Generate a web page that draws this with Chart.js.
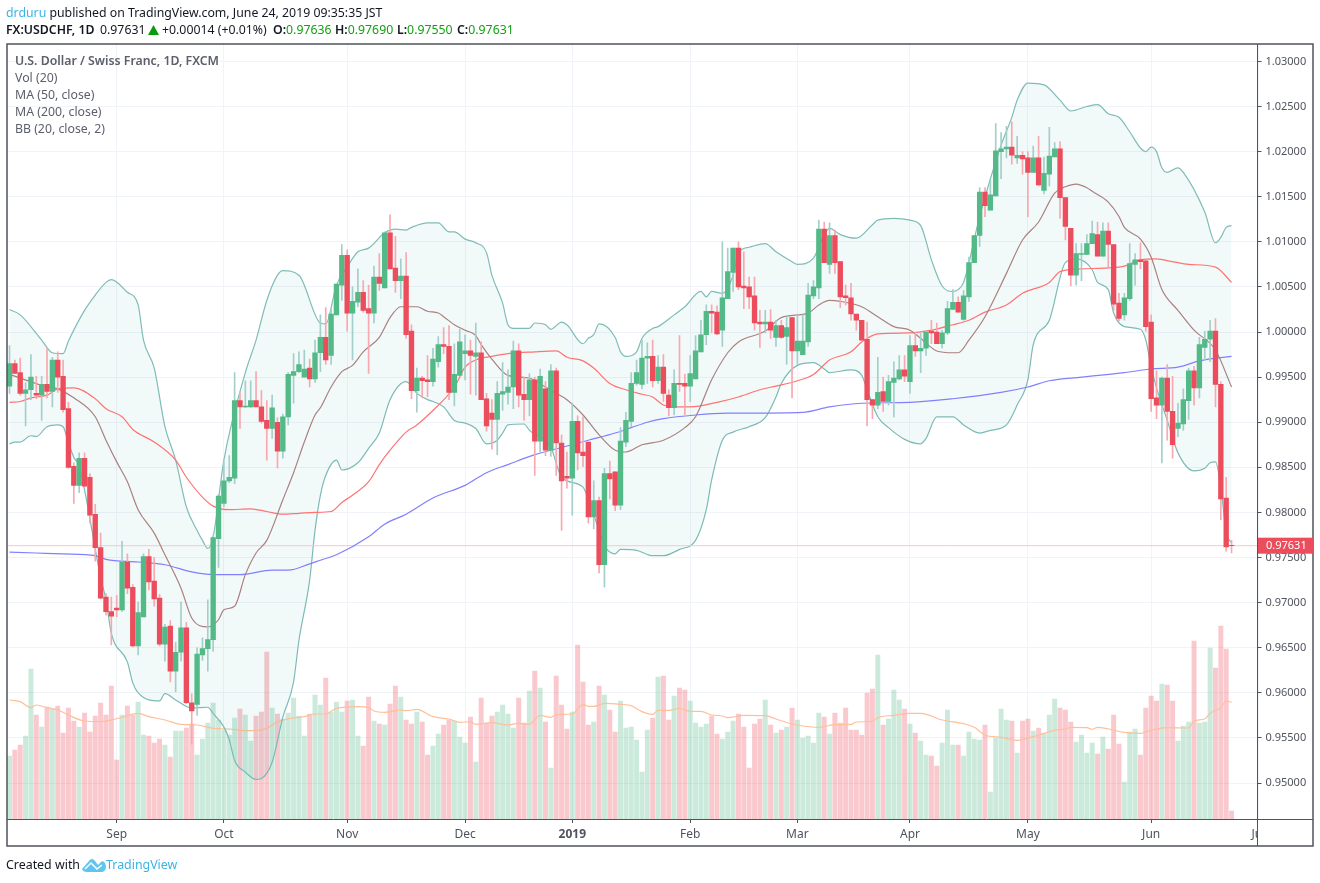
<!DOCTYPE html>
<html>
<head>
<meta charset="utf-8">
<title>USDCHF</title>
<script src="https://cdn.jsdelivr.net/npm/chart.js@4"></script>
<style>
  body { margin: 0; background: #fff; font-family: "Noto Sans", sans-serif; }
  #wrap { position: relative; width: 1320px; height: 883px; overflow: hidden; }
  canvas { position: absolute; left: 0; top: 0; }
  .t { position: absolute; white-space: nowrap; font-size: 12.3px; line-height: 16px; color: #131722; }
  .leg { color: #5d606b; left: 15px; }
  b { font-weight: 600; }
  .up { color: #12a012; }
  .blue { color: #3bb3e4; }
</style>
</head>
<body>
<div id="wrap">
  <canvas id="myChart" width="1320" height="883"></canvas>
  <div class="t" style="left:6px;top:5px"><span class="blue">drduru</span> published on TradingView.com, June 24, 2019 09:35:35 JST</div>
  <div class="t" style="left:6px;top:22px"><b>FX:USDCHF, 1D</b></div>
  <div class="t" style="left:100px;top:22px">0.97631</div>
  <svg style="position:absolute;left:148px;top:25px" width="11" height="10"><polygon points="5.5,0 11,10 0,10" fill="#0a9b0a"/></svg>
  <div class="t" style="left:162px;top:22px">+0.00014 (+0.01%)</div>
  <div class="t" style="left:273px;top:22px"><b>O:</b><span class="up">0.97636</span></div>
  <div class="t" style="left:335px;top:22px"><b>H:</b><span class="up">0.97690</span></div>
  <div class="t" style="left:397px;top:22px"><b>L:</b><span class="up">0.97550</span></div>
  <div class="t" style="left:457px;top:22px"><b>C:</b><span class="up">0.97631</span></div>
  <div class="t leg" style="top:53px"><b>U.S. Dollar / Swiss Franc, 1D, FXCM</b></div>
  <div class="t leg" style="top:70px">Vol (20)</div>
  <div class="t leg" style="top:87px">MA (50, close)</div>
  <div class="t leg" style="top:104px">MA (200, close)</div>
  <div class="t leg" style="top:121px">BB (20, close, 2)</div>
  <div class="t" style="left:6px;top:857px;font-size:12.4px">Created with</div>
  <svg style="position:absolute;left:82px;top:857px" width="24" height="16" viewBox="0 0 24 16">
    <path d="M0 12 L7 4 Q10 0 13 4 L16 8 L19 5 Q21 3 23 6 L24 9 Q24 15 19 15 L5 15 Q1 15 0 12 Z" fill="#5fc5ee"/>
    <path d="M3 12 L9 6 L15 12 L20 8" fill="none" stroke="#fff" stroke-width="1.5"/>
  </svg>
  <div class="t blue" style="left:106px;top:857px;font-size:12.4px">TradingView</div>
</div>

<script>
// candles, one per trading day
let opens = [
  .9940,.9965,.9955,.9932,.9936,.9932,.9930,.9942,.9934,.9969,
  .9951,.9915,.9851,.9830,.9860,.9839,.9798,.9761,.9706,.9690,
  .9694,.9692,.9745,.9717,.9652,.9684,.9751,.9724,.9705,.9654,
  .9674,.9624,.9645,.9672,.9589,.9587,.9642,.9649,.9659,.9771,
  .9810,.9835,.9838,.9924,.9917,.9917,.9924,.9917,.9902,.9893,
  .9900,.9868,.9906,.9952,.9956,.9950,.9960,.9948,.9977,.9994,
  .9974,1.0019,1.0052,1.0085,1.0021,1.0033,1.0044,1.0026,1.0021,1.0061,
  1.0049,1.0110,1.0071,1.0057,1.0062,1.0001,.9935,.9949,.9947,.9945,
  .9967,.9986,.9984,.9933,.9952,.9976,.9979,.9973,.9977,.9926,
  .9910,.9903,.9931,.9933,.9939,.9979,.9931,.9925,.9947,.9879,
  .9937,.9869,.9957,.9877,.9840,.9838,.9901,.9867,.9878,.9795,
  .9813,.9742,.9843,.9845,.9808,.9878,.9901,.9943,.9942,.9971,
  .9973,.9946,.9961,.9930,.9916,.9943,.9943,.9940,.9948,.9978,
  .9997,1.0023,1.0022,1.0002,1.0037,1.0066,1.0093,1.0051,1.0050,1.0040,
  1.0011,1.0009,1.0011,.9994,1.0007,.9995,1.0016,.9979,.9975,.9989,
  1.0040,1.0049,1.0114,1.0075,1.0107,1.0078,1.0040,1.0038,1.0020,1.0013,
  .9992,.9925,.9919,.9934,.9923,.9944,.9948,.9958,.9945,.9985,
  .9979,.9982,1.0001,1.0000,.9987,.9999,1.0025,1.0033,1.0014,1.0039,
  1.0077,1.0107,1.0155,1.0135,1.0151,1.0200,1.0203,1.0205,1.0193,1.0196,
  1.0193,1.0177,1.0193,1.0157,1.0175,1.0194,1.0203,1.0149,1.0115,1.0063,
  1.0086,1.0086,1.0098,1.0108,1.0084,1.0112,1.0097,1.0032,1.0019,1.0037,
  1.0075,1.0080,1.0079,1.0011,.9927,.9919,.9949,.9912,.9893,.9898,
  .9924,.9957,.9938,.9983,.9992,1.0001,.9942,.9816,.97636
];
let highs = [
  .9985,.9969,.9971,.9944,.9975,.9951,.9951,.9983,.9972,.9978,
  .9969,.9922,.9855,.9866,.9866,.9843,.9809,.9777,.9710,.9706,
  .9708,.9768,.9754,.9720,.9701,.9754,.9759,.9750,.9709,.9676,
  .9680,.9656,.9701,.9678,.9599,.9650,.9661,.9703,.9775,.9820,
  .9856,.9863,.9955,.9934,.9946,.9946,.9956,.9935,.9924,.9930,
  .9905,.9909,.9955,.9976,.9978,.9980,.9970,.9991,1.0019,1.0027,
  1.0026,1.0053,1.0097,1.0091,1.0050,1.0070,1.0057,1.0052,1.0073,1.0087,
  1.0111,1.0130,1.0106,1.0081,1.0088,1.0008,.9960,.9951,.9974,.9982,
  .9995,1.0005,1.0007,.9987,1.0003,.9997,.9991,1.0010,.9989,.9932,
  .9925,.9945,.9966,.9958,.9990,.9987,.9950,.9954,.9950,.9959,
  .9945,.9964,.9960,.9886,.9867,.9921,.9907,.9906,.9878,.9835,
  .9817,.9849,.9857,.9845,.9894,.9911,.9955,.9969,.9991,.9988,
  .9991,.9974,.9975,.9936,.9958,.9996,.9953,.9974,.9996,1.0013,
  1.0030,1.0030,1.0029,1.0100,1.0093,1.0093,1.0100,1.0089,1.0061,1.0061,
  1.0024,1.0024,1.0025,1.0013,1.0013,1.0017,1.0016,1.0019,1.0019,1.0054,
  1.0057,1.0124,1.0122,1.0121,1.0113,1.0078,1.0052,1.0054,1.0020,1.0013,
  1.0011,.9925,.9972,.9950,.9952,.9967,.9974,.9974,.9996,1.0000,
  .9999,1.0001,1.0013,1.0010,1.0002,1.0034,1.0047,1.0039,1.0046,1.0083,
  1.0107,1.0160,1.0160,1.0169,1.0231,1.0221,1.0228,1.0233,1.0217,1.0200,
  1.0200,1.0206,1.0217,1.0194,1.0227,1.0210,1.0211,1.0149,1.0115,1.0098,
  1.0098,1.0108,1.0123,1.0122,1.0121,1.0121,1.0097,1.0043,1.0043,1.0098,
  1.0087,1.0099,1.0079,1.0019,.9957,.9950,.9964,.9951,.9921,.9937,
  .9960,.9962,.9994,1.0001,1.0013,1.0015,.9945,.9839,.9769
];
let lows = [
  .9932,.9954,.9930,.9896,.9925,.9926,.9902,.9927,.9917,.9933,
  .9911,.9849,.9810,.9822,.9828,.9788,.9746,.9704,.9686,.9653,
  .9684,.9690,.9710,.9651,.9642,.9684,.9714,.9696,.9652,.9635,
  .9612,.9601,.9635,.9588,.9543,.9575,.9636,.9624,.9646,.9739,
  .9806,.9833,.9832,.9893,.9916,.9916,.9917,.9899,.9858,.9882,
  .9849,.9860,.9897,.9921,.9955,.9950,.9939,.9944,.9956,.9964,
  .9964,1.0019,1.0035,1.0001,.9969,1.0028,1.0022,.9954,1.0010,1.0046,
  1.0049,1.0070,1.0044,1.0037,.9993,.9926,.9911,.9927,.9928,.9940,
  .9961,.9976,.9925,.9918,.9952,.9947,.9931,.9930,.9925,.9890,
  .9870,.9864,.9913,.9920,.9915,.9917,.9902,.9907,.9841,.9867,
  .9863,.9862,.9841,.9780,.9827,.9797,.9847,.9851,.9788,.9782,
  .9733,.9717,.9815,.9802,.9803,.9873,.9895,.9941,.9937,.9943,
  .9939,.9943,.9923,.9907,.9908,.9934,.9908,.9923,.9948,.9978,
  .9986,.9999,.9997,.9984,1.0037,1.0045,1.0047,1.0026,1.0026,1.0002,
  .9983,.9999,.9993,.9984,.9993,.9964,.9927,.9964,.9975,.9984,
  1.0037,1.0037,1.0077,1.0065,1.0065,1.0027,1.0030,1.0013,1.0002,.9991,
  .9896,.9904,.9915,.9912,.9919,.9906,.9947,.9945,.9932,.9973,
  .9955,.9974,.9987,.9987,.9982,.9997,1.0025,1.0022,1.0013,1.0034,
  1.0077,1.0095,1.0128,1.0135,1.0151,1.0170,1.0193,1.0186,1.0187,1.0175,
  1.0128,1.0177,1.0162,1.0153,1.0162,1.0194,1.0126,1.0102,1.0051,1.0052,
  1.0057,1.0086,1.0098,1.0084,1.0084,1.0072,1.0024,1.0012,1.0013,1.0035,
  1.0052,1.0070,1.0001,.9912,.9904,.9855,.9880,.9860,.9884,.9891,
  .9903,.9919,.9927,.9969,.9967,.9917,.9792,.9757,.9755
];
let closes = [
  .9965,.9954,.9932,.9936,.9950,.9930,.9942,.9934,.9969,.9950,
  .9914,.9850,.9830,.9860,.9829,.9797,.9761,.9705,.9690,.9685,
  .9692,.9745,.9716,.9652,.9689,.9751,.9723,.9704,.9654,.9673,
  .9624,.9645,.9672,.9589,.9580,.9643,.9649,.9659,.9772,.9818,
  .9835,.9839,.9924,.9917,.9918,.9924,.9917,.9901,.9893,.9916,
  .9868,.9906,.9953,.9956,.9964,.9959,.9948,.9977,.9994,.9969,
  1.0020,1.0053,1.0085,1.0021,1.0034,1.0044,1.0024,1.0021,1.0061,1.0054,
  1.0110,1.0070,1.0057,1.0062,.9997,.9935,.9949,.9946,.9945,.9970,
  .9986,.9984,.9933,.9953,.9989,.9979,.9974,.9977,.9925,.9896,
  .9903,.9932,.9934,.9939,.9979,.9930,.9925,.9947,.9879,.9951,
  .9869,.9957,.9877,.9835,.9838,.9901,.9866,.9863,.9795,.9813,
  .9742,.9843,.9837,.9808,.9879,.9902,.9943,.9955,.9971,.9973,
  .9946,.9961,.9932,.9916,.9943,.9942,.9940,.9954,.9979,.9997,
  1.0023,1.0021,.9998,1.0038,1.0067,1.0093,1.0050,1.0049,1.0039,1.0010,
  1.0009,1.0011,1.0002,1.0007,.9994,1.0005,.9979,.9990,.9990,1.0041,
  1.0050,1.0114,1.0077,1.0107,1.0077,1.0039,1.0038,1.0020,1.0013,.9991,
  .9925,.9919,.9933,.9923,.9945,.9949,.9958,.9951,.9985,.9979,
  .9982,1.0000,.9999,.9987,.9999,1.0026,1.0033,1.0022,1.0040,1.0077,
  1.0107,1.0155,1.0140,1.0152,1.0201,1.0203,1.0205,1.0196,1.0196,1.0192,
  1.0177,1.0193,1.0163,1.0176,1.0195,1.0203,1.0149,1.0117,1.0063,1.0087,
  1.0087,1.0098,1.0109,1.0084,1.0112,1.0097,1.0031,1.0015,1.0038,1.0076,
  1.0080,1.0078,1.0006,.9926,.9919,.9949,.9912,.9875,.9899,.9925,
  .9957,.9938,.9986,.9992,1.0001,.9942,.9815,.97617,.97631
];
// volume, measured from the bottom of the pane
let volumes = [
  189,207,222,249,450,312,276,336,330,339,
  258,333,294,276,318,261,309,348,312,399,
  177,312,339,312,351,252,249,228,240,222,
  186,264,264,273,285,192,240,288,348,297,
  267,252,303,330,312,234,309,321,501,333,
  315,300,318,363,309,249,315,372,342,423,
  321,351,321,354,357,249,219,366,294,285,
  282,345,399,366,297,285,321,291,192,219,
  255,282,297,294,246,228,306,171,363,288,
  309,321,342,315,273,363,288,384,444,393,
  291,153,429,342,270,321,522,411,282,291,
  399,372,327,261,354,273,276,237,141,267,
  303,426,429,297,369,393,387,354,288,276,
  285,309,255,240,261,294,315,276,153,285,
  300,357,282,258,267,276,333,297,243,249,
  228,318,306,255,318,288,333,267,267,252,
  378,390,492,282,300,387,357,330,285,258,
  234,192,189,159,228,327,222,222,189,261,
  240,237,282,81,243,330,297,294,198,294,
  300,264,273,257,312,360,333,327,291,231,
  252,198,228,195,246,210,312,225,111,261,
  270,192,333,369,354,405,402,354,234,279,
  291,534,288,291,513,453,579,510,24
];

// study lines, read at their bends: bar number and value
let ma50At = [0,2,4,7,9,12,16,18,21,23,27,31,33,36,38,41,45,48,51,54,57,60,62,64,67,69,71,74,76,79,83,85,87,90,93,98,102,104,107,109,112,115,118,120,122,124,127,132,136,140,143,147,150,153,157,159,162,168,172,176,179,182,186,189,194,196,200,205,208,211,214,217,220,225,228];
let ma50 = [.9922,.9923,.9927,.9930,.9937,.9938,.9926,.9915,.9906,.9892,.9878,.9858,.9839,.9817,.9807,.9803,.9804,.9801,.9798,.9799,.9800,.9801,.9811,.9819,.9834,.9853,.9869,.9889,.9897,.9913,.9939,.9961,.9969,.9973,.9976,.9978,.9979,.9972,.9968,.9960,.9943,.9936,.9931,.9928,.9919,.9917,.9917,.9922,.9928,.9936,.9940,.9946,.9953,.9969,.9978,.9989,.9998,.9999,1.0002,1.0008,1.0013,1.0022,1.0030,1.0043,1.0055,1.0067,1.0070,1.0071,1.0073,1.0080,1.0081,1.0078,1.0075,1.0072,1.0055];
let ma200At = [0,5,10,16,18,24,29,34,38,43,49,52,56,58,61,67,70,74,79,85,89,93,98,103,108,113,116,119,122,128,134,148,153,159,168,176,185,190,194,200,208,213,218,222,228];
let ma200 = [.9756,.9755,.9754,.9752,.9748,.9745,.9742,.9734,.9731,.9731,.9736,.9736,.9743,.9747,.9753,.9773,.9787,.9798,.9816,.9830,.9844,.9853,.9864,.9872,.9880,.9888,.9894,.9900,.9904,.9908,.9910,.9911,.9917,.9921,.9922,.9926,.9933,.9939,.9946,.9950,.9955,.9959,.9961,.9968,.9973];
let bbBasisAt = [0,6,9,12,16,18,20,22,24,27,29,32,34,37,39,40,42,44,46,48,51,53,55,57,58,60,62,64,66,69,71,73,76,78,80,81,83,85,87,88,90,93,97,100,102,104,107,110,113,115,118,122,126,128,131,134,136,141,144,149,151,153,155,159,162,165,168,170,173,176,177,179,182,186,189,192,195,197,199,201,202,205,207,208,211,213,215,218,221,225,228];
let bbBasis = [.9953,.9941,.9937,.9927,.9906,.9880,.9856,.9834,.9803,.9777,.9753,.9716,.9683,.9673,.9681,.9692,.9696,.9731,.9755,.9769,.9814,.9844,.9878,.9908,.9916,.9939,.9956,.9963,.9978,.9994,1.0016,1.0028,1.0028,1.0023,1.0021,1.0017,1.0008,1.0002,.9996,.9986,.9970,.9952,.9949,.9939,.9932,.9925,.9908,.9886,.9869,.9867,.9875,.9880,.9894,.9906,.9947,.9977,.9989,1.0001,1.0016,1.0021,1.0030,1.0035,1.0034,1.0028,1.0017,1.0006,1.0002,.9993,.9979,.9977,.9977,.9991,1.0017,1.0065,1.0102,1.0122,1.0154,1.0161,1.0164,1.0160,1.0156,1.0144,1.0128,1.0116,1.0103,1.0083,1.0047,1.0024,1.0002,.9980,.9939];
let bbUpperAt = [0,2,6,8,10,11,14,16,18,19,22,24,25,27,29,31,33,35,36,37,38,40,44,46,48,50,51,54,58,59,61,63,65,67,70,72,74,75,78,80,82,83,85,87,89,90,92,93,94,97,98,100,101,103,104,107,108,109,110,113,114,115,117,118,120,121,124,126,129,130,131,133,135,136,138,141,143,146,147,150,152,153,155,158,161,162,165,168,170,172,174,176,177,178,181,185,187,188,190,193,196,198,201,203,205,207,209,211,212,213,214,215,216,218,219,223,225,226,227,228];
let bbUpper = [1.0025,1.0019,.9991,.9977,.9976,.9990,1.0024,1.0041,1.0055,1.0058,1.0044,1.0030,.9991,.9960,.9895,.9858,.9806,.9780,.9769,.9760,.9773,.9858,.9955,.9991,1.0035,1.0063,1.0068,1.0063,1.0010,1.0009,1.0052,1.0072,1.0089,1.0093,1.0110,1.0114,1.0113,1.0116,1.0121,1.0121,1.0111,1.0111,1.0103,1.0099,1.0088,1.0063,1.0032,1.0008,1.0004,1.0004,1.0010,1.0008,1.0003,1.0011,1.0008,.9987,.9993,.9997,1.0009,.9994,.9978,.9973,.9978,.9993,1.0004,1.0006,1.0019,1.0028,1.0045,1.0039,1.0045,1.0043,1.0063,1.0088,1.0094,1.0098,1.0089,1.0078,1.0075,1.0082,1.0108,1.0115,1.0108,1.0104,1.0119,1.0124,1.0126,1.0124,1.0118,1.0080,1.0051,1.0045,1.0047,1.0055,1.0128,1.0207,1.0238,1.0257,1.0276,1.0274,1.0257,1.0245,1.0250,1.0252,1.0242,1.0238,1.0222,1.0204,1.0200,1.0205,1.0200,1.0182,1.0177,1.0182,1.0177,1.0133,1.0099,1.0105,1.0116,1.0118];
let bbLowerAt = [0,1,2,4,5,7,9,10,11,12,13,17,18,19,22,23,24,28,29,31,34,37,38,40,41,42,44,46,47,49,51,53,54,56,57,58,59,61,62,65,67,69,71,74,76,78,79,81,83,85,87,89,91,92,93,96,97,101,103,107,108,110,111,113,114,117,120,122,125,128,130,131,133,135,138,141,143,144,147,150,152,153,157,159,160,162,164,167,170,171,173,176,178,181,183,186,188,190,191,194,197,199,202,203,205,206,208,211,212,213,214,216,218,221,223,224,225,226,227,228];
let bbLower = [.9876,.9878,.9878,.9885,.9884,.9895,.9897,.9895,.9877,.9861,.9851,.9728,.9703,.9666,.9634,.9611,.9600,.9591,.9599,.9592,.9583,.9584,.9577,.9562,.9548,.9525,.9512,.9504,.9505,.9523,.9573,.9612,.9658,.9725,.9780,.9819,.9841,.9858,.9847,.9855,.9871,.9888,.9925,.9945,.9932,.9925,.9923,.9917,.9902,.9899,.9893,.9876,.9880,.9888,.9897,.9898,.9891,.9872,.9839,.9828,.9814,.9780,.9763,.9754,.9759,.9758,.9752,.9752,.9759,.9769,.9803,.9836,.9880,.9889,.9895,.9905,.9928,.9943,.9963,.9966,.9959,.9955,.9958,.9952,.9936,.9906,.9894,.9881,.9876,.9882,.9906,.9906,.9897,.9888,.9891,.9897,.9919,.9947,.9986,1.0013,1.0077,1.0081,1.0069,1.0055,1.0047,1.0021,1.0006,1.0003,.9991,.9961,.9938,.9902,.9866,.9846,.9849,.9855,.9856,.9828,.9778,.9766];
let volMaAt = [0,2,4,5,7,9,11,14,17,19,21,24,26,29,32,35,38,41,43,46,48,50,52,55,57,59,61,65,67,68,70,73,74,76,79,82,84,86,87,90,93,95,97,99,101,102,105,107,108,109,111,114,116,118,120,121,123,125,127,129,131,133,134,137,141,143,146,148,151,154,157,158,161,162,165,168,170,174,175,178,180,182,185,188,191,193,195,197,198,201,202,203,205,208,211,213,216,220,221,223,224,226,227,228];
let volMa = [357,352,334,342,334,327,312,294,292,297,305,317,307,297,284,282,272,270,266,265,272,292,301,307,315,315,332,337,334,324,320,327,325,329,307,300,290,292,284,289,282,287,284,311,305,313,315,344,338,338,347,344,340,322,314,326,326,332,323,323,312,309,304,311,310,300,285,279,275,283,284,291,293,304,311,317,317,297,294,286,275,252,245,236,247,257,266,270,275,274,269,275,270,260,257,266,274,273,294,300,317,334,354,350];

// tick labels
let monthAt = [20,40,63,85,105,127,147,168,190,213,233];
let monthNames = ["Sep","Oct","Nov","Dec","2019","Feb","Mar","Apr","May","Jun","Jul"];
let priceTicks = [.95,.955,.96,.965,.97,.975,.98,.985,.99,.995,1,1.005,1.01,1.015,1.02,1.025,1.03];
let lastPrice = 0.97631;

const GREEN = "#53b987", RED = "#eb4d5c";
const GRID = "#f0f3f8", AXIS = "#50535e", TICKTEXT = "#50535e";
const FONT = '"Noto Sans", sans-serif';

function xy(at, vals) {
  return vals.map((v, k) => ({ x: at[k], y: v }));
}

function studyLine(label, at, vals, color, axis, order) {
  return { type: "line", label: label, data: xy(at, vals), borderColor: color, borderWidth: 1.2,
           cubicInterpolationMode: "monotone", pointRadius: 0, yAxisID: axis || "y", order: order || 5, fill: false };
}

// frame round the panes and the red price tag
const framePlugin = {
  id: "frame",
  afterDraw(chart) {
    const c = chart.ctx, a = chart.chartArea, y = chart.scales.y;
    c.save();
    // the Jul label is cut by the price axis
    c.fillStyle = "#fff";
    c.fillRect(a.right, a.bottom + 1, 55, 26);
    c.strokeStyle = AXIS;
    c.lineWidth = 1.5;
    c.strokeRect(7, 44, 1306, 802);
    c.lineWidth = 1;
    c.beginPath();
    c.moveTo(7, 819.5); c.lineTo(1313, 819.5);
    c.moveTo(1257.5, 44); c.lineTo(1257.5, 846);
    c.stroke();
    const py = y.getPixelForValue(lastPrice);
    c.fillStyle = RED;
    c.fillRect(1258, py - 8, 55, 16);
    c.fillStyle = "#fff";
    c.font = "11px " + FONT;
    c.textBaseline = "middle";
    c.fillText(lastPrice.toFixed(5), 1266, py + 0.5);
    c.restore();
  }
};

const bars = opens.map((o, i) => i);
const xMin = -0.466, xMax = 232.84;

new Chart(document.getElementById("myChart").getContext("2d"), {
  type: "bar",
  plugins: [framePlugin],
  data: {
    datasets: [
      { label: "Vol", yAxisID: "vol", order: 20, grouped: false, barThickness: 4.3,
        data: bars.map(i => ({ x: i, y: volumes[i] })),
        backgroundColor: bars.map(i => closes[i] < opens[i] ? "rgba(235,77,92,0.3)" : "rgba(83,185,135,0.3)") },
      studyLine("Vol MA", volMaAt, volMa, "#ffbf99", "vol", 15),
      Object.assign(studyLine("BB upper", bbUpperAt, bbUpper, "#7fbcb8", "y", 10),
        { fill: "+1", backgroundColor: "rgba(0,128,128,0.05)" }),
      studyLine("BB lower", bbLowerAt, bbLower, "#7fbcb8", "y", 10),
      studyLine("BB basis", bbBasisAt, bbBasis, "#aa8080"),
      studyLine("MA 50", ma50At, ma50, "#ff7373"),
      studyLine("MA 200", ma200At, ma200, "#8080ff"),
      { type: "line", label: "Last", data: [{ x: xMin, y: lastPrice }, { x: xMax, y: lastPrice }],
        borderColor: "#f9c5ca", borderWidth: 1, pointRadius: 0, order: 6 },
      { label: "Wicks", order: 2, grouped: false, barThickness: 1,
        data: bars.map(i => ({ x: i, y: [lows[i], highs[i]] })),
        backgroundColor: bars.map(i => closes[i] < opens[i] ? "#f7a8b0" : "#a3cfca") },
      { label: "Bodies", order: 1, grouped: false, barThickness: 4.7,
        data: bars.map(i => ({ x: i, y: [opens[i], closes[i]] })),
        backgroundColor: bars.map(i => closes[i] < opens[i] ? RED : GREEN) }
    ]
  },
  options: {
    responsive: false,
    animation: false,
    devicePixelRatio: 1,
    layout: { padding: { left: 7, top: 44, right: 7, bottom: 37 } },
    plugins: { legend: { display: false }, tooltip: { enabled: false } },
    scales: {
      x: {
        type: "linear", min: xMin, max: xMax, offset: false,
        afterBuildTicks: s => { s.ticks = monthAt.map(v => ({ value: v })); },
        afterFit: s => { s.height = 27; },
        grid: { offset: false, color: GRID, tickColor: AXIS, tickLength: 4 },
        border: { display: false },
        ticks: {
          autoSkip: false, maxRotation: 0, padding: 4, color: TICKTEXT,
          font: ctx => ({ family: FONT, size: 12, weight: ctx.tick && ctx.tick.value === 105 ? "bold" : "normal" }),
          callback: v => monthNames[monthAt.indexOf(v)]
        }
      },
      y: {
        position: "right", min: 0.94601, max: 1.03193,
        afterBuildTicks: s => { s.ticks = priceTicks.map(v => ({ value: v })); },
        afterFit: s => { s.width = 55.5; },
        grid: { color: GRID, tickColor: AXIS, tickLength: 4 },
        border: { display: false },
        ticks: { autoSkip: false, padding: 4, color: TICKTEXT, font: { family: FONT, size: 11 },
                 callback: v => v.toFixed(5) }
      },
      vol: { display: false, min: 0, max: 2325 }
    }
  }
});
</script>
</body>
</html>
